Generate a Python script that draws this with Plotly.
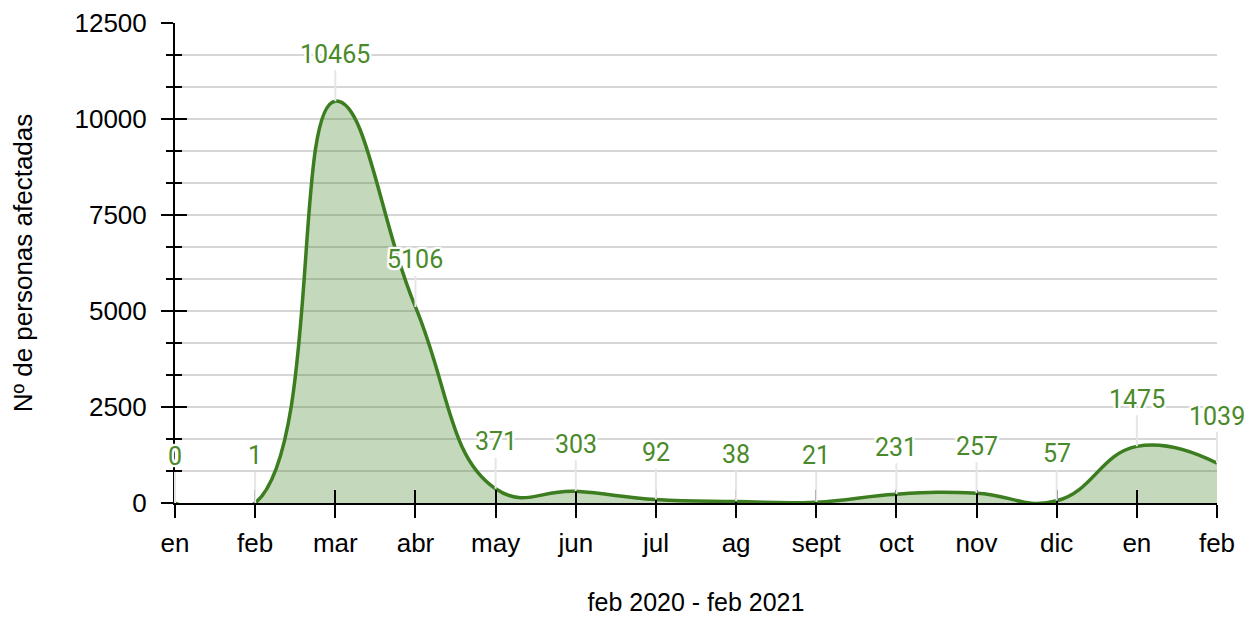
import plotly.graph_objects as go

# =============================================================================
# DATOS
# =============================================================================
meses = ["en", "feb", "mar", "abr", "may", "jun", "jul", "ag", "sept",
         "oct", "nov", "dic", "en", "feb"]
afectados = [0, 1, 10465, 5106, 371, 303, 92, 38, 21, 231, 257, 57, 1475, 1039]
ticks_y = [0, 2500, 5000, 7500, 10000, 12500]

posiciones = list(range(len(meses)))

VERDE = "#3b7d1f"
VERDE_TEXTO = "#4a8a2a"
RELLENO = "rgba(64,128,40,0.31)"
GRIS = "#d6d6d6"
FUENTE_EJES = "Liberation Sans, Arial, sans-serif"

fig = go.Figure()

# area con linea suavizada
fig.add_trace(go.Scatter(
    x=posiciones, y=afectados,
    mode="lines",
    line=dict(color=VERDE, width=3.5, shape="spline", smoothing=1.3),
    fill="tozeroy", fillcolor=RELLENO,
    customdata=meses,
    hovertemplate="%{customdata}: %{y}<extra></extra>",
    showlegend=False,
))

# traza invisible para los ejes superpuestos (marcas hacia dentro)
fig.add_trace(go.Scatter(
    x=posiciones, y=afectados, xaxis="x2", yaxis="y2",
    mode="markers", marker=dict(opacity=0),
    hoverinfo="skip", showlegend=False,
))

# etiquetas de valor con linea guia
halo = ("white 2px 0px 1px, white -2px 0px 1px, white 0px 2px 1px, white 0px -2px 1px, "
        "white 2px 2px 1px, white -2px -2px 1px, white 2px -2px 1px, white -2px 2px 1px")
for xi, v in zip(posiciones, afectados):
    fig.add_annotation(
        x=xi, y=v, xref="x", yref="y",
        text=str(v),
        showarrow=True, arrowhead=0, arrowwidth=2, arrowcolor="#e6e6e6",
        ax=0, ay=-47, standoff=0,
        font=dict(family="Roboto", size=25, color=VERDE_TEXTO, shadow=halo),
    )

rango_y = [0, 12500]
rango_x = [0, len(meses) - 1]

# la pagina tiene 8px de margen en el body, se descuenta aqui
fig.update_layout(
    width=1249, height=612,
    plot_bgcolor="white", paper_bgcolor="white",
    margin=dict(l=167, r=40, t=15, b=117),
    font=dict(family=FUENTE_EJES, size=26, color="black"),
    xaxis=dict(
        range=rango_x, automargin=False,
        tickvals=posiciones, ticktext=meses,
        ticks="outside", ticklen=13, tickwidth=2, tickcolor="black",
        ticklabelstandoff=3, ticklabeloverflow="allow",
        showline=True, linecolor="black", linewidth=2,
        showgrid=False, zeroline=False,
        title=dict(text="feb 2020 - feb 2021", standoff=36,
                   font=dict(size=25)),
        tickfont=dict(size=26),
    ),
    yaxis=dict(
        range=rango_y, automargin=False,
        tickvals=ticks_y, ticktext=[str(t) for t in ticks_y],
        ticks="outside", ticklen=12, tickwidth=2, tickcolor="black",
        ticklabelstandoff=9, ticklabeloverflow="allow",
        showline=True, linecolor="black", linewidth=2,
        showgrid=True, gridcolor=GRIS, gridwidth=1.5,
        zeroline=False,
        minor=dict(dtick=2500 / 3, tick0=0, ticks="outside", ticklen=7,
                   tickwidth=2, tickcolor="black",
                   showgrid=True, gridcolor=GRIS, gridwidth=1.5),
        title=dict(text="Nº de personas afectadas", standoff=44,
                   font=dict(size=26)),
        tickfont=dict(size=26),
    ),
    xaxis2=dict(
        overlaying="x", anchor="y", range=rango_x, automargin=False,
        tickvals=posiciones, showticklabels=False,
        ticks="inside", ticklen=13, tickwidth=2, tickcolor="black",
        showgrid=False, zeroline=False, showline=False,
    ),
    yaxis2=dict(
        overlaying="y", anchor="x", range=rango_y, automargin=False,
        tickvals=ticks_y, showticklabels=False,
        ticks="inside", ticklen=12, tickwidth=2, tickcolor="black",
        showgrid=False, zeroline=False, showline=False,
        minor=dict(dtick=2500 / 3, tick0=0, ticks="inside", ticklen=7,
                   tickwidth=2, tickcolor="black", showgrid=False),
    ),
)

fig.write_html("out.html")
